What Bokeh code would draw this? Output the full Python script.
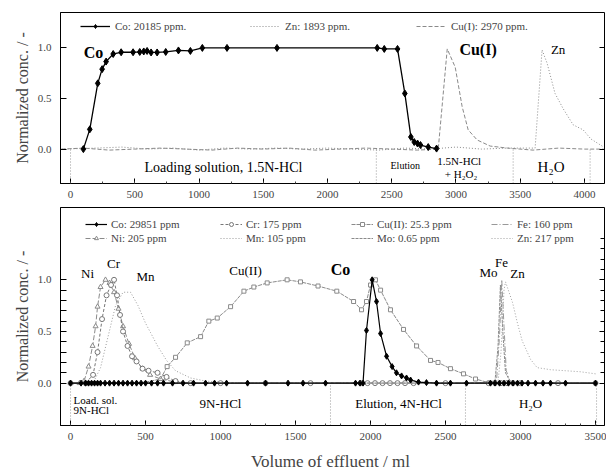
from bokeh.plotting import figure
from bokeh.models import Range1d, FixedTicker, LinearAxis, Legend, LegendItem, Label
from bokeh.layouts import column
from bokeh.embed import file_html
from bokeh.resources import INLINE

SERIF = "Liberation Serif"

# ---------------- top panel data ----------------
co_top_x = [100, 150, 212, 246, 277, 332, 394, 487, 539, 570, 596, 627, 674, 741, 840,
            933, 1026, 1218, 1607, 2387, 2442, 2545, 2602, 2649, 2675, 2701, 2724, 2784, 2849]
co_top_y = [0.0, 0.195, 0.65, 0.79, 0.865, 0.94, 0.957, 0.957, 0.96, 0.965, 0.97, 0.955, 0.955, 0.96, 0.975,
            0.97, 1.0, 1.0, 1.0, 1.0, 0.99, 0.99, 0.55, 0.12, 0.07, 0.055, 0.04, 0.02, 0.005]

zn_top_x = [-70, 200, 400, 600, 800, 1000, 1200, 1400, 1600, 1800, 2000, 2200, 2400, 2600,
            2800, 3000, 3200, 3400, 3616, 3670, 3709, 3771, 3834, 3912, 3990, 4050, 4150]
zn_top_y = [0.0, 0.01, 0.02, 0.0, 0.01, -0.01, 0.01, 0.0, 0.01, 0.0, 0.01, 0.0, -0.01, 0.01,
            0.0, 0.02, 0.0, 0.01, 0.01, 0.98, 0.85, 0.55, 0.40, 0.24, 0.19, 0.10, 0.02]

cu1_top_x = [-70, 100, 300, 500, 700, 900, 1100, 1300, 1500, 1700, 1900, 2100, 2300, 2500,
             2700, 2862, 2932, 2994, 3048, 3095, 3165, 3266, 3400, 3600, 3800, 4000, 4150]
cu1_top_y = [0.0, 0.01, -0.01, 0.0, 0.01, 0.0, -0.01, 0.01, 0.0, 0.01, -0.01, 0.0, 0.01, 0.0,
             -0.01, 0.0, 0.99, 0.81, 0.42, 0.19, 0.09, 0.03, 0.01, -0.01, 0.01, 0.0, 0.0]

top_sections = [0, 2380, 3445, 4044]
top_x_ticks = [0, 500, 1000, 1500, 2000, 2500, 3000, 3500, 4000]
y_ticks = [0.0, 0.5, 1.0]
y_tick_labels = {0: "0.0", 0.5: "0.5", 1: "1.0"}

# ---------------- bottom panel data ----------------
co_bot_x = [0, 70, 100, 120, 140, 160, 180, 200, 230, 260, 290, 320, 350, 380, 410,
            440, 470, 500, 540, 580, 620, 680, 750, 820, 900, 960, 1040, 1180, 1300, 1450,
            1550, 1700, 1900, 1930, 1950, 1973, 2011, 2040, 2067, 2107, 2144, 2173, 2207, 2240, 2267,
            2320, 2373, 2440, 2533, 2640, 2800, 2830, 2860, 2890, 2920, 2950, 2980, 3010, 3050, 3100,
            3150, 3200, 3300, 3500]
co_bot_y = [0.0, 0.0, 0.0, 0.0, 0.0, 0.0, 0.0, 0.0, 0.0, 0.0, 0.0, 0.0, 0.0, 0.0, 0.0,
            0.0, 0.0, 0.0, 0.0, 0.0, 0.0, 0.0, 0.0, 0.0, 0.0, 0.0, 0.0, 0.0, 0.0, 0.0,
            0.0, 0.0, 0.0, 0.0, 0.0, 0.51, 1.0, 0.79, 0.48, 0.26, 0.16, 0.10, 0.07, 0.05, 0.03,
            0.01, 0.005, 0.0, 0.0, 0.0, 0.0, 0.0, 0.0, 0.0, 0.0, 0.0, 0.0, 0.0, 0.0, 0.0,
            0.0, 0.0, 0.0, 0.0]

ni_x = [0, 60, 90, 120, 147, 167, 180, 200, 233, 260, 290, 320, 350, 390, 430, 480, 530, 600,
        700, 850, 1100, 1400, 1700, 2000, 2300, 2600, 2900, 3200, 3500]
ni_y = [0.0, 0.0, 0.02, 0.16, 0.36, 0.55, 0.74, 0.93, 1.0, 0.97, 0.88, 0.72, 0.55, 0.38, 0.24, 0.14, 0.08, 0.04,
        0.01, 0.0, 0.0, 0.0, 0.0, 0.0, 0.0, 0.0, 0.0, 0.0, 0.0]

cr_x = [0, 100, 150, 180, 210, 240, 270, 290, 310, 330, 350, 380, 410, 440, 480, 520, 580, 640, 700, 800,
        1000, 1300, 1600, 1933, 1980, 2030, 2080, 2130, 2180, 2230, 2287, 2500, 2787, 2830, 2870, 2910,
        2950, 3000, 3250, 3500]
cr_y = [0.0, 0.0, 0.08, 0.30, 0.62, 0.85, 0.95, 1.0, 0.85, 0.66, 0.50, 0.36, 0.26, 0.21, 0.14, 0.12, 0.10, 0.06, 0.02, 0.0,
        0.0, 0.0, 0.0, 0.0, 0.0, 0.0, 0.0, 0.0, 0.0, 0.0, 0.0, 0.0, 0.0, 0.0, 0.0, 0.0,
        0.0, 0.0, 0.0, 0.0]

mn_x = [0, 150, 200, 250, 300, 350, 400, 450, 500, 533, 580, 640, 700, 800, 900, 1100, 1500, 2000, 2500, 3000, 3500]
mn_y = [0.0, 0.0, 0.15, 0.45, 0.75, 0.88, 0.88, 0.75, 0.58, 0.49, 0.36, 0.22, 0.12, 0.05, 0.02, 0.0, 0.0, 0.0, 0.0, 0.0, 0.0]

cu2_x = [0, 300, 500, 600, 644, 700, 778, 867, 922, 978, 1067, 1156, 1222, 1311, 1444, 1533, 1650, 1775,
         1887, 1940, 1973, 2000, 2033, 2067, 2133, 2220, 2307, 2400, 2450, 2533, 2620, 2700, 2800, 3000, 3250, 3500]
cu2_y = [0.0, 0.0, 0.01, 0.04, 0.16, 0.25, 0.39, 0.45, 0.60, 0.63, 0.74, 0.89, 0.93, 0.97, 1.0, 0.98, 0.94, 0.89,
         0.79, 0.71, 0.79, 0.95, 1.0, 0.90, 0.71, 0.52, 0.36, 0.22, 0.20, 0.14, 0.09, 0.04, 0.0, 0.0, 0.0, 0.0]

fe_x = [0, 700, 1400, 2100, 2700, 2840, 2860, 2875, 2890, 2905, 2930, 3000, 3500]
fe_y = [0.0, 0.0, 0.0, 0.0, 0.0, 0.02, 0.45, 1.0, 0.55, 0.12, 0.02, 0.0, 0.0]

mo_x = [0, 700, 1400, 2100, 2700, 2830, 2850, 2866, 2882, 2900, 2930, 3000, 3500]
mo_y = [0.0, 0.0, 0.0, 0.0, 0.0, 0.02, 0.35, 0.95, 0.50, 0.10, 0.02, 0.0, 0.0]

zn_bot_x = [0, 700, 1400, 2100, 2700, 2850, 2870, 2890, 2900, 2947, 2978, 3011, 3067, 3111, 3200, 3300, 3400, 3500]
zn_bot_y = [0.0, 0.0, 0.0, 0.0, 0.0, 0.01, 0.30, 0.90, 0.98, 0.78, 0.59, 0.41, 0.23, 0.15, 0.13, 0.12, 0.11, 0.09]

bot_sections = [0, 1733, 2633, 3507]
bot_x_ticks = [0, 500, 1000, 1500, 2000, 2500, 3000, 3500]


def style(p, xticks, xminor, yminor_left, yminor_right):
    p.outline_line_color = "black"
    p.outline_line_width = 1
    p.xgrid.visible = False
    p.ygrid.visible = False
    p.background_fill_color = "white"
    p.border_fill_color = "white"
    for ax in p.xaxis:
        ax.ticker = FixedTicker(ticks=xticks, minor_ticks=xminor)
        ax.major_tick_in = 5
        ax.major_tick_out = 0
        ax.minor_tick_in = 2
        ax.minor_tick_out = 0
        ax.major_label_text_font = SERIF
        ax.major_label_text_font_size = "11px"
        ax.major_label_standoff = 7
        ax.axis_line_color = "black"
        ax.major_tick_line_color = "black"
        ax.minor_tick_line_color = "#444444"
    for ax in p.yaxis:
        ax.ticker = FixedTicker(ticks=y_ticks, minor_ticks=yminor_left)
        ax.major_label_overrides = y_tick_labels
        ax.major_tick_in = 6
        ax.major_tick_out = 0
        ax.minor_tick_in = 6
        ax.minor_tick_out = 0
        ax.major_label_text_font = SERIF
        ax.major_label_text_font_size = "11px"
        ax.major_label_standoff = 9
        ax.axis_label = "Normalized conc. / -"
        ax.axis_label_text_font = SERIF
        ax.axis_label_text_font_size = "16px"
        ax.axis_label_text_font_style = "normal"
        ax.axis_label_standoff = 4
        ax.axis_line_color = "black"
    right = LinearAxis(ticker=FixedTicker(ticks=y_ticks, minor_ticks=yminor_right),
                       major_label_overrides={0: "", 0.5: "", 1: ""}, major_label_standoff=0,
                       major_tick_in=5, major_tick_out=0, minor_tick_in=4, minor_tick_out=0,
                       axis_line_color=None)
    p.add_layout(right, "right")


def add_label(p, text, x, y, size, bold=False, align="center"):
    p.add_layout(Label(x=x, y=y, text=text, text_font=SERIF, text_font_size=size,
                       text_font_style="bold" if bold else "normal",
                       text_align=align, text_baseline="middle", text_color="black"))


def add_legend(p, items, x, y, glyph_width, standoff):
    lg = Legend(items=[LegendItem(label=lab, renderers=rs) for lab, rs in items],
                location=(x, y), orientation="vertical",
                background_fill_alpha=0, border_line_color=None,
                label_text_font=SERIF, label_text_font_size="11px",
                glyph_width=glyph_width, glyph_height=10, label_height=10,
                spacing=2, padding=0, margin=0, label_standoff=standoff)
    p.add_layout(lg)


# ================= top figure =================
top = figure(width=606, height=205, x_range=Range1d(-78, 4156), y_range=Range1d(-0.34, 1.35),
             output_backend="svg", toolbar_location=None,
             min_border_left=60, min_border_right=2, min_border_top=12, min_border_bottom=22)
style(top, top_x_ticks, list(range(0, 4150, 250)), [], [])

top.segment(x0=top_sections, y0=[-0.34] * len(top_sections), x1=top_sections, y1=[0.0] * len(top_sections),
            line_color="#999999", line_dash="1 2", line_width=1)

r_zn1 = top.line(zn_top_x, zn_top_y, line_color="#8a8a8a", line_dash="1 2", line_width=1)
r_cu1 = top.line(cu1_top_x, cu1_top_y, line_color="#8a8a8a", line_dash="4 2", line_width=1)
r_co1 = top.line(co_top_x, co_top_y, line_color="black", line_width=1.3)
r_co1m = top.scatter(co_top_x, co_top_y, marker="diamond", size=7, color="black")

add_legend(top, [("Co: 20185 ppm.", [r_co1, r_co1m])], 20, 151, 30, 5)
add_legend(top, [("Zn: 1893 ppm.", [r_zn1])], 190, 151, 30, 5)
add_legend(top, [("Cu(I): 2970 ppm.", [r_cu1])], 356, 151, 30, 5)

add_label(top, "Co", 179, 0.95, "16px", bold=True)
add_label(top, "Cu(I)", 3172, 0.98, "16px", bold=True)
add_label(top, "Zn", 3795, 0.98, "13px")
add_label(top, "Loading solution, 1.5N-HCl", 1190, -0.18, "14px")
add_label(top, "Elution", 2605, -0.16, "10px")
add_label(top, "1.5N-HCl", 3025, -0.12, "11px")
add_label(top, "+ H\u2082O\u2082", 3040, -0.25, "11px")
add_label(top, "H\u2082O", 3740, -0.18, "15px")

# ================= bottom figure =================
bot = figure(width=606, height=268, x_range=Range1d(-67, 3560), y_range=Range1d(-0.41, 1.70),
             output_backend="svg", toolbar_location=None,
             min_border_left=60, min_border_right=2, min_border_top=2, min_border_bottom=46)
left_minor = [0.1, 0.2, 0.3, 0.4, 0.6, 0.7, 0.8, 0.9]
right_minor = [0.1, 0.2, 0.3, 0.4, 0.6, 0.7, 0.8, 0.9, 1.1, 1.2, 1.3, 1.4]
style(bot, bot_x_ticks, list(range(0, 3600, 100)), left_minor, right_minor)
bot.xaxis.axis_label = "Volume of effluent /  ml"
bot.xaxis.axis_label_text_font = SERIF
bot.xaxis.axis_label_text_font_size = "17px"
bot.xaxis.axis_label_text_font_style = "normal"
bot.xaxis.axis_label_standoff = 9

bot.segment(x0=bot_sections, y0=[-0.41] * len(bot_sections), x1=bot_sections, y1=[0.0] * len(bot_sections),
            line_color="#999999", line_dash="1 2", line_width=1)

r_mn = bot.line(mn_x, mn_y, line_color="#9a9a9a", line_dash="1 2", line_width=1)
r_ni = bot.line(ni_x, ni_y, line_color="#8a8a8a", line_dash="5 2", line_width=1)
r_nim = bot.scatter(ni_x[:19], ni_y[:19], marker="triangle", size=5, fill_color="white", line_color="#8a8a8a")
r_cr = bot.line(cr_x, cr_y, line_color="#777777", line_dash="3 2", line_width=1)
r_crm = bot.scatter(cr_x, cr_y, marker="circle", size=5, fill_color="white", line_color="#777777")
r_cu2 = bot.line(cu2_x, cu2_y, line_color="#8a8a8a", line_dash="4 1", line_width=1)
r_cu2m = bot.scatter(cu2_x[4:32], cu2_y[4:32], marker="square", size=4, fill_color="white", line_color="#8a8a8a")
r_fe = bot.line(fe_x, fe_y, line_color="#999999", line_dash="6 2 1 2", line_width=1)
r_mo = bot.line(mo_x, mo_y, line_color="#8a8a8a", line_dash="3 1", line_width=1)
r_zn2 = bot.line(zn_bot_x, zn_bot_y, line_color="#a0a0a0", line_dash="1 2", line_width=1)
r_co2 = bot.line(co_bot_x, co_bot_y, line_color="black", line_width=1.2)
r_co2m = bot.scatter(co_bot_x, co_bot_y, marker="diamond", size=6, color="black")

add_legend(bot, [("Co: 29851 ppm", [r_co2, r_co2m]), ("Ni: 205 ppm", [r_ni, r_nim])], 25, 181, 22, 4)
add_legend(bot, [("Cr: 175 ppm", [r_cr, r_crm]), ("Mn: 105 ppm", [r_mn])], 160, 181, 22, 4)
add_legend(bot, [("Cu(II): 25.3 ppm", [r_cu2, r_cu2m]), ("Mo: 0.65 ppm", [r_mo])], 291, 181, 22, 4)
add_legend(bot, [("Fe: 160 ppm", [r_fe]), ("Zn: 217 ppm", [r_zn2])], 431, 181, 22, 4)

add_label(bot, "Ni", 113, 1.06, "13px")
add_label(bot, "Cr", 287, 1.16, "13px")
add_label(bot, "Mn", 500, 1.03, "13px")
add_label(bot, "Cu(II)", 1167, 1.09, "13px")
add_label(bot, "Co", 1800, 1.10, "16px", bold=True)
add_label(bot, "Mo", 2787, 1.07, "13px")
add_label(bot, "Fe", 2873, 1.17, "13px")
add_label(bot, "Zn", 2980, 1.06, "13px")
add_label(bot, "Load. sol.", 20, -0.16, "11px", align="left")
add_label(bot, "9N-HCl", 20, -0.26, "11px", align="left")
add_label(bot, "9N-HCl", 1000, -0.20, "13px")
add_label(bot, "Elution, 4N-HCl", 2187, -0.20, "13px")
add_label(bot, "H\u2082O", 3067, -0.20, "13px")

layout = column(top, bot, spacing=0)
open("out.html", "w").write(file_html(layout, INLINE))
